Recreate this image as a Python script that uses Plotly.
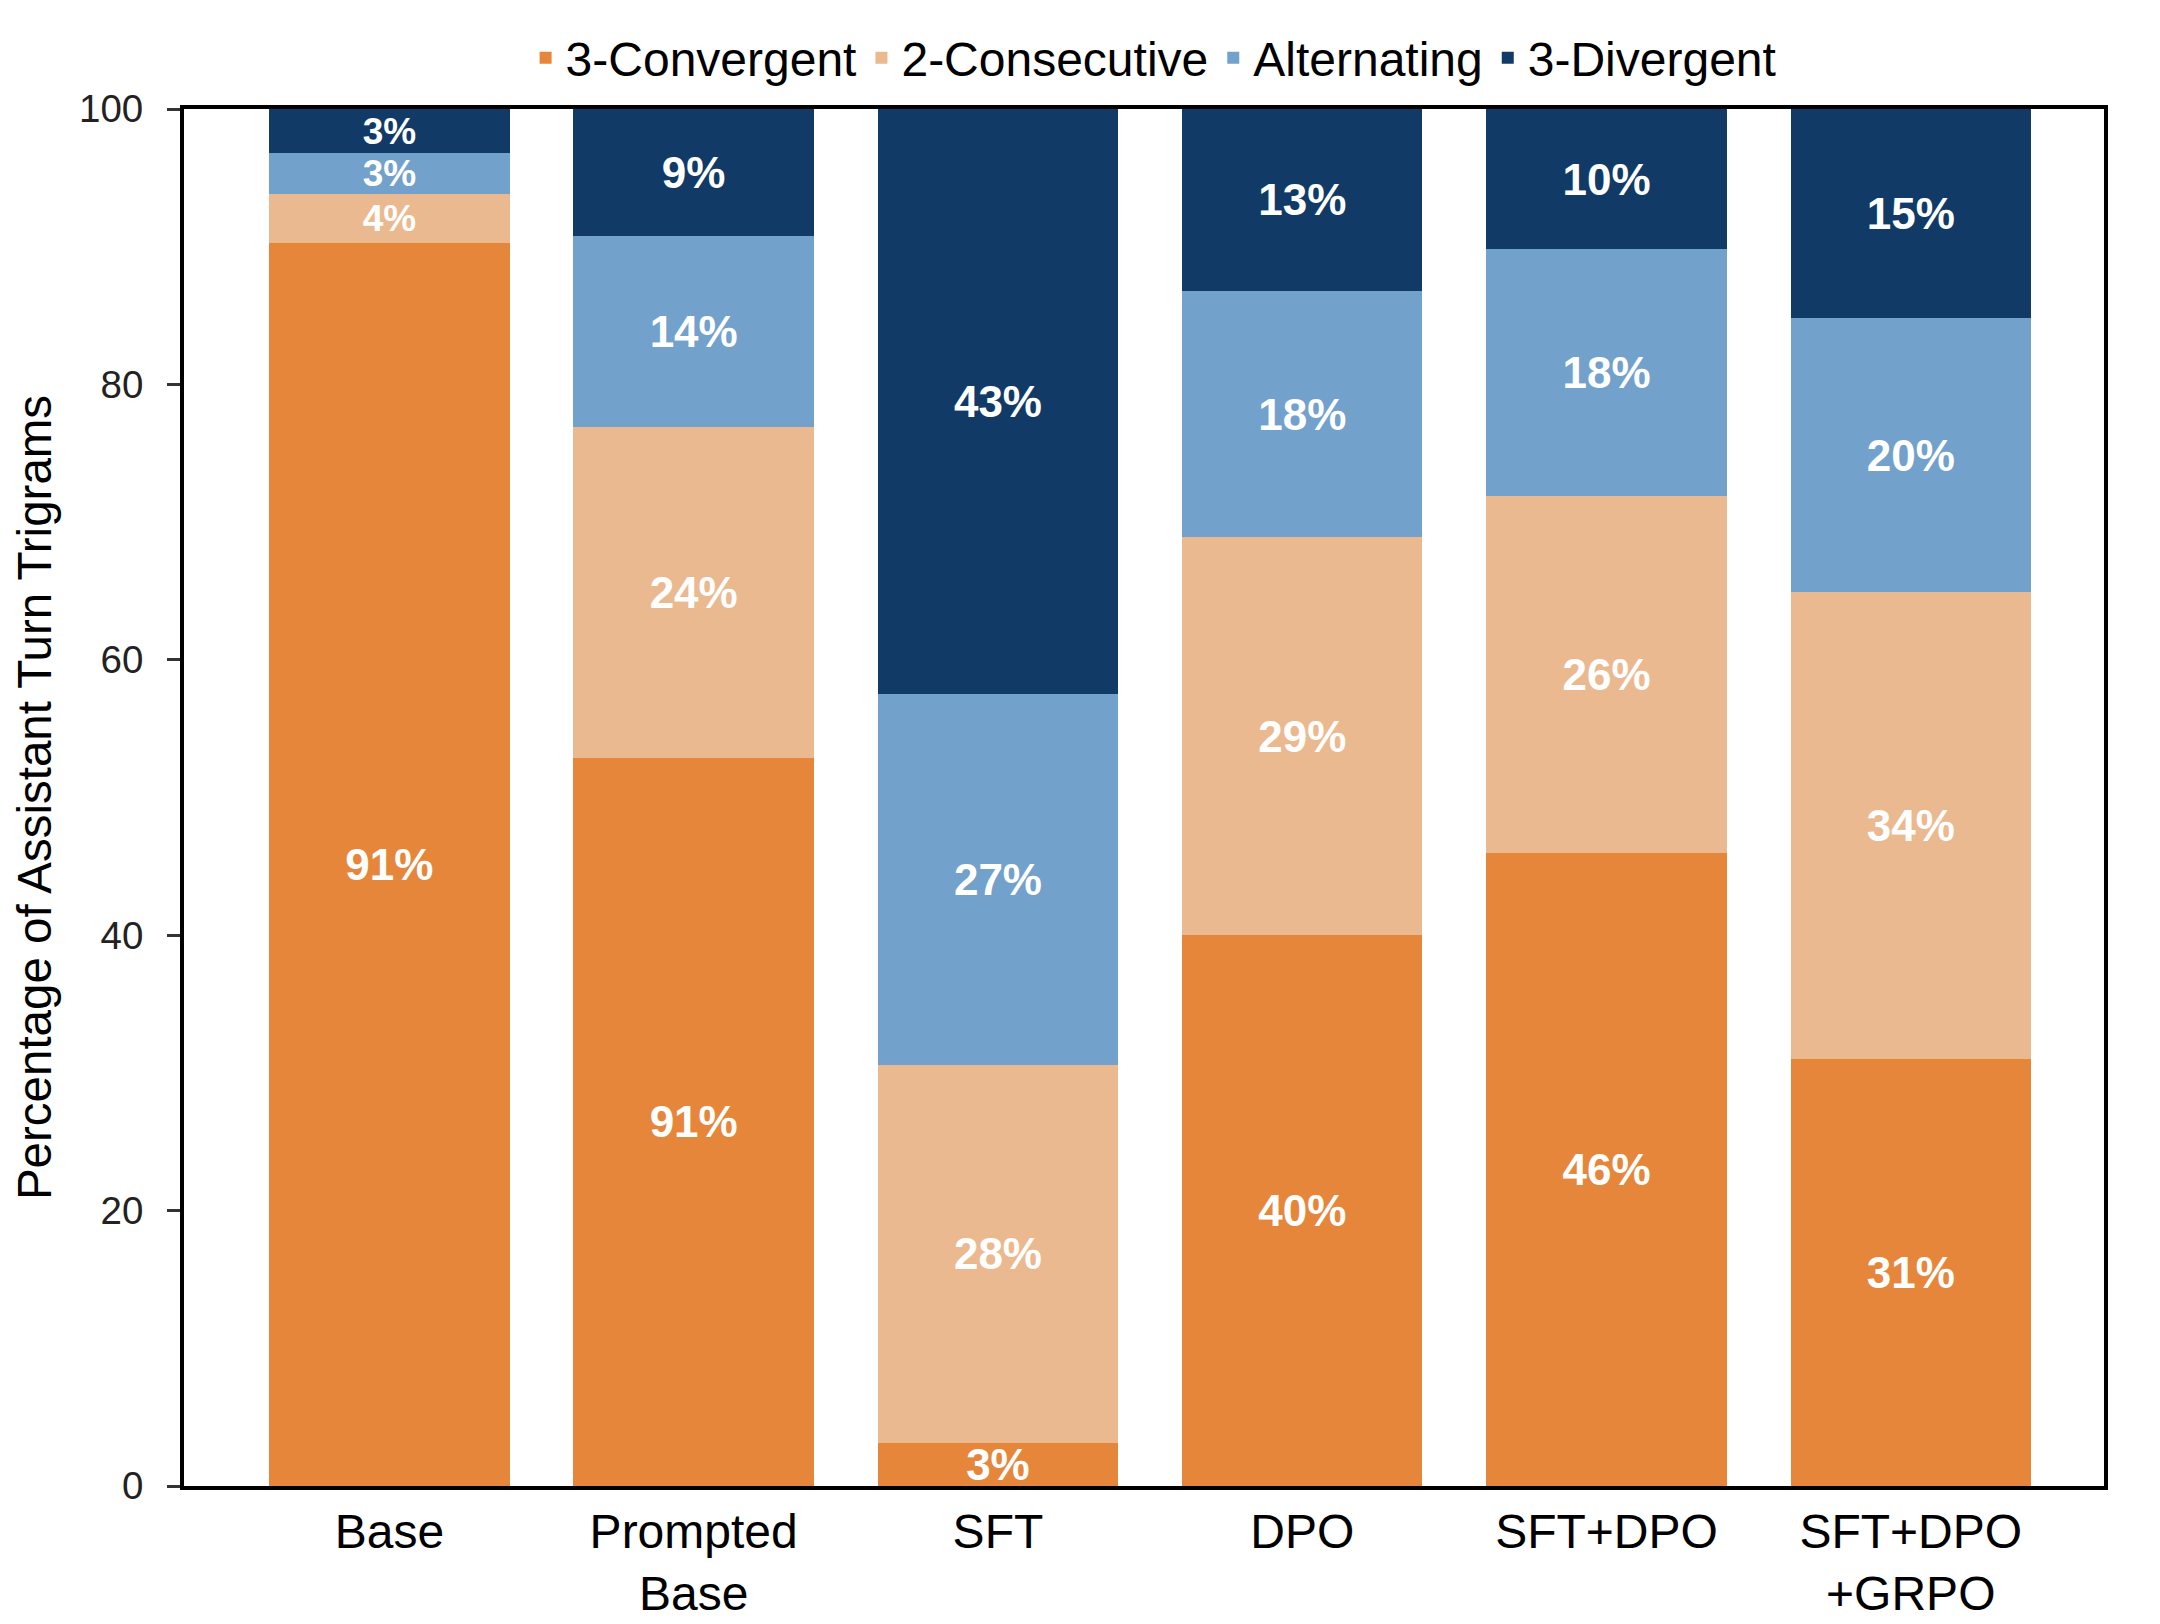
import plotly.graph_objects as go

categories = ["Base", "Prompted<br>Base", "SFT", "DPO", "SFT+DPO", "SFT+DPO<br>+GRPO"]
series_names = ["3-Convergent", "2-Consecutive", "Alternating", "3-Divergent"]
convergent = [90.3, 52.9, 3.1, 40.0, 46.0, 31.0]
consecutive = [3.5, 24.0, 27.5, 28.9, 25.9, 33.9]
alternating = [3.0, 13.9, 26.9, 17.9, 17.9, 19.9]
divergent = [3.2, 9.2, 42.5, 13.2, 10.2, 15.2]
convergent_labels = ["91%", "91%", "3%", "40%", "46%", "31%"]
consecutive_labels = ["4%", "24%", "28%", "29%", "26%", "34%"]
alternating_labels = ["3%", "14%", "27%", "18%", "18%", "20%"]
divergent_labels = ["3%", "9%", "43%", "13%", "10%", "15%"]
y_ticks = [0, 20, 40, 60, 80, 100]

colors = ["#E6863A", "#EBB98F", "#72A1CB", "#113B66"]
FONT = "Liberation Sans"
LABEL_SIZE = 44
THIN_LABEL_SIZE = 37

fig = go.Figure()
for name, vals, labels, col in zip(
    series_names,
    [convergent, consecutive, alternating, divergent],
    [convergent_labels, consecutive_labels, alternating_labels, divergent_labels],
    colors,
):
    sizes = [THIN_LABEL_SIZE if v < 5 and i == 0 else LABEL_SIZE for i, v in enumerate(vals)]
    fig.add_trace(go.Bar(
        x=categories, y=vals, name=name, text=labels,
        marker=dict(color=col, line=dict(width=0)),
        width=0.79,
        textposition="inside", insidetextanchor="middle", textangle=0,
        constraintext="none",
        textfont=dict(family=FONT, size=sizes, color="white", weight="bold"),
        hoverinfo="skip",
    ))

fig.update_layout(
    barmode="stack",
    width=2160, height=1624,
    margin=dict(l=176, r=64, t=92, b=128),
    paper_bgcolor="white", plot_bgcolor="white",
    font=dict(family=FONT, size=48, color="black"),
    showlegend=True,
    legend=dict(orientation="h", x=0.505, xanchor="center", y=1.037, yanchor="middle",
                font=dict(family=FONT, size=48, color="black"),
                traceorder="normal", itemwidth=30, bgcolor="rgba(0,0,0,0)"),
    xaxis=dict(range=[-0.675, 5.635], showline=True, linecolor="black", linewidth=4,
               mirror=True, ticks="", showgrid=False, zeroline=False,
               tickfont=dict(family=FONT, size=48, color="black")),
    yaxis=dict(range=[0, 100], tickvals=y_ticks, showline=True, linecolor="black",
               linewidth=4, mirror=True, ticks="outside", ticklen=13, tickwidth=3,
               tickcolor="#333", showgrid=False, zeroline=False, ticklabelstandoff=16,
               tickfont=dict(family=FONT, size=38.5, color="#222"),
               title=dict(text="Percentage of Assistant Turn Trigrams",
                          font=dict(family=FONT, size=47.5, color="black"), standoff=14)),
)

fig.write_html("out.html")
